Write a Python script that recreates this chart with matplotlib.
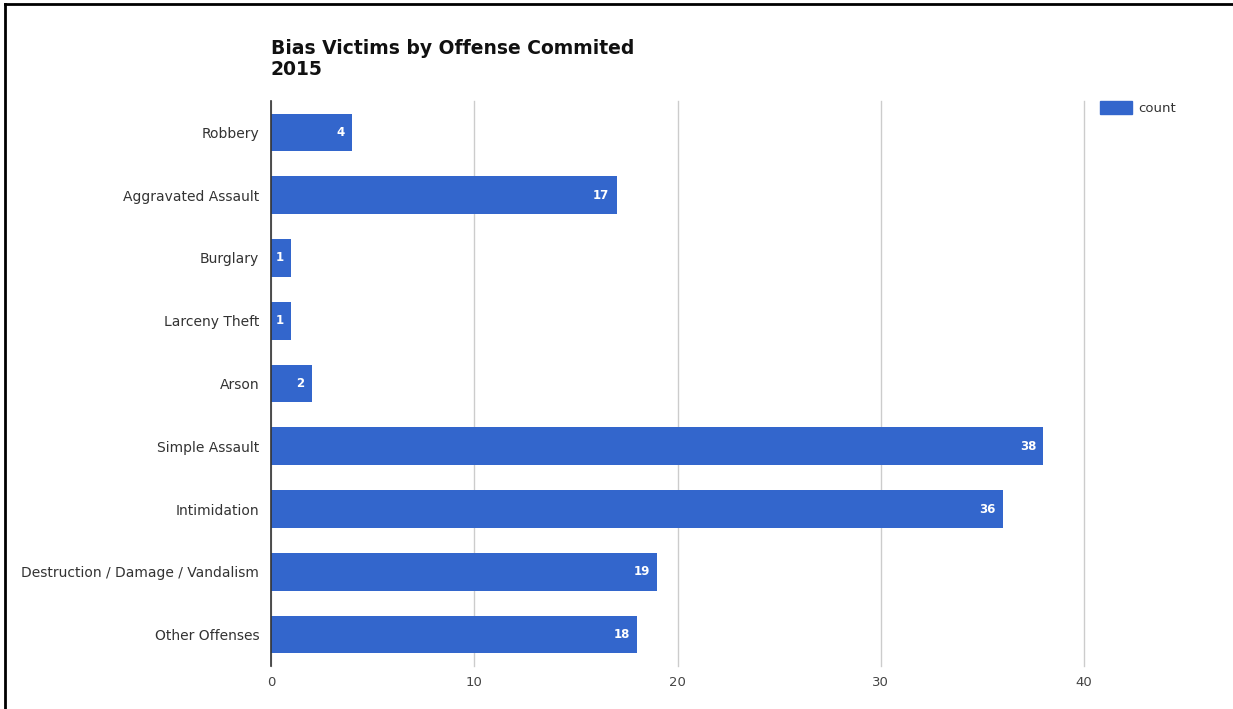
import matplotlib
matplotlib.use("Agg")
import matplotlib.pyplot as plt
from matplotlib.patches import Rectangle
from matplotlib.lines import Line2D

categories = ["Robbery", "Aggravated Assault", "Burglary", "Larceny Theft", "Arson",
              "Simple Assault", "Intimidation", "Destruction / Damage / Vandalism",
              "Other Offenses"]
counts = [4, 17, 1, 1, 2, 38, 36, 19, 18]
xticks = [0, 10, 20, 30, 40]
title = "Bias Victims by Offense Commited\n2015"
legend_label = "count"

W, H = 1233, 709
plt.rcParams['font.family'] = ['DejaVu Sans']
fig = plt.figure(figsize=(W / 100, H / 100), dpi=100)

ax = fig.add_axes([271 / W, 1 - 666 / H, (1084 - 271) / W, (666 - 101) / H])
blue = "#3366cc"
y = list(range(len(categories)))
ax.barh(y, counts, height=0.6, color=blue, zorder=3)
ax.set_ylim(len(categories) - 0.5, -0.5)
ax.set_xlim(0, 40)
ax.set_yticks(y)
ax.set_yticklabels(categories, fontsize=10, color="#333333")
ax.set_xticks(xticks)
ax.set_xticklabels([str(t) for t in xticks], fontsize=9.5, color="#444444")
ax.tick_params(axis="y", length=0, pad=8.5)
ax.tick_params(axis="x", length=0, pad=7)
for s in ["top", "right", "bottom"]:
    ax.spines[s].set_visible(False)
ax.spines["left"].set_color("#333333")
ax.spines["left"].set_linewidth(1.2)
ax.spines["left"].set_zorder(4)
ax.grid(axis="x", color="#cccccc", linewidth=1, zorder=0)
ax.set_axisbelow(True)
for gl in ax.get_xgridlines():
    gl.set_clip_on(False)

for yi, v in zip(y, counts):
    ax.text(v - 0.35, yi, str(v), ha="right", va="center", color="white",
            fontsize=8.5, fontweight="bold", zorder=5)

fig.text(271 / W, 1 - 59 / H, title, ha="left", va="center", fontsize=13.5,
         fontweight="bold", color="#111111", linespacing=1.15)

# legend
fig.patches.append(Rectangle((1100 / W, 1 - 114 / H), 32 / W, 13 / H,
                             transform=fig.transFigure, color=blue))
fig.text(1138 / W, 1 - 108 / H, legend_label, ha="left", va="center",
         fontsize=9.5, color="#333333")

# frame lines
fig.lines.append(Line2D([5 / W, 1], [1 - 4 / H, 1 - 4 / H], transform=fig.transFigure,
                        color="black", linewidth=2))
fig.lines.append(Line2D([5 / W, 5 / W], [0, 1 - 4 / H], transform=fig.transFigure,
                        color="black", linewidth=2))

fig.savefig("out.png", dpi=100, facecolor="white")
